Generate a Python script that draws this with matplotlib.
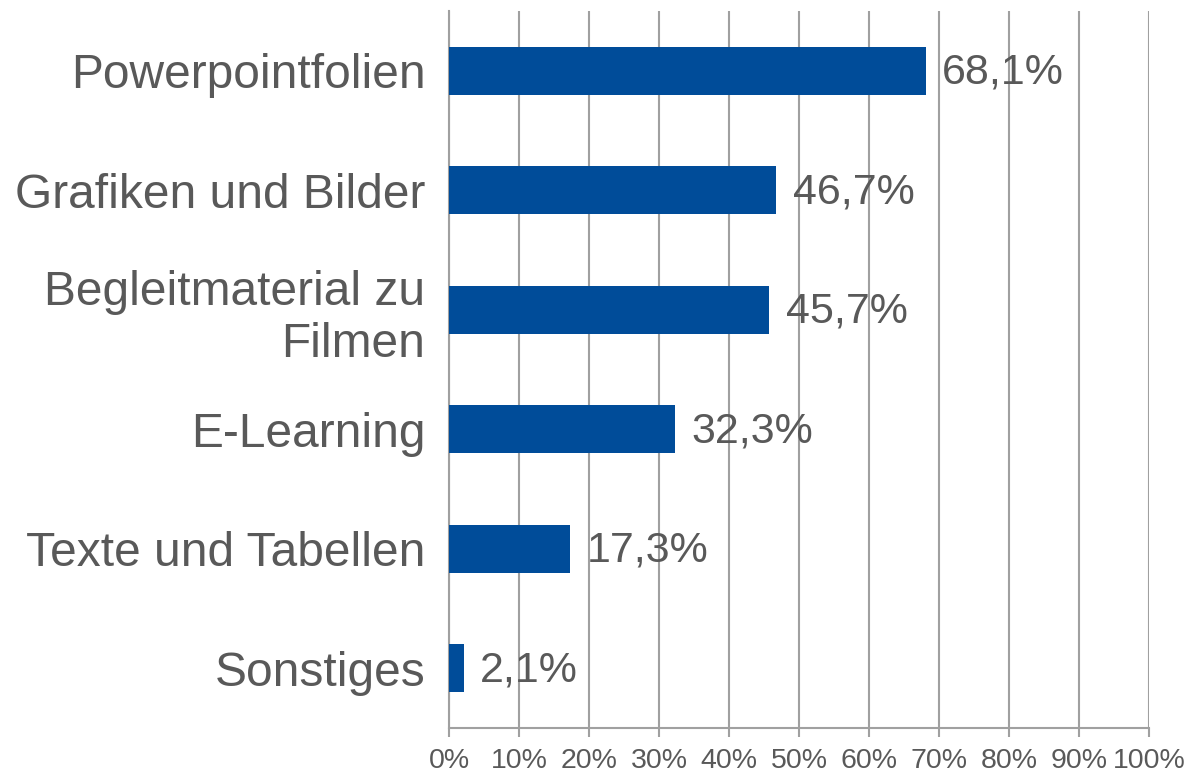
import matplotlib
matplotlib.use("Agg")
import matplotlib.pyplot as plt
import numpy as np

categories = ["Powerpointfolien", "Grafiken und Bilder", "Begleitmaterial zu\nFilmen",
              "E-Learning", "Texte und Tabellen", "Sonstiges"]
values = [68.1, 46.7, 45.7, 32.3, 17.3, 2.1]
value_labels = ["68,1%", "46,7%", "45,7%", "32,3%", "17,3%", "2,1%"]
xticks = [0, 10, 20, 30, 40, 50, 60, 70, 80, 90, 100]
xtick_labels = [f"{t}%" for t in xticks]

plt.rcParams['font.family'] = ['Liberation Sans', 'DejaVu Sans']

W, H = 1204, 775
fig = plt.figure(figsize=(W / 100, H / 100), dpi=100)
ax = fig.add_axes([449 / W, (H - 728) / H, 700 / W, 717 / H])

text_color = "#595959"
grid_color = "#A0A0A0"
bar_color = "#004C99"

y = np.arange(len(categories))
ax.barh(y, values, height=0.4, color=bar_color, zorder=3)
ax.set_ylim(len(categories) - 0.5, -0.5)
ax.set_xlim(0, 100)

for yi, v, lab in zip(y, values, value_labels):
    ax.annotate(lab, (v, yi), xytext=(12, -1.5), textcoords="offset points",
                ha="left", va="center", fontsize=31, color=text_color, zorder=4)

ax.set_yticks(y)
ax.set_yticklabels(categories, fontsize=34.5, color=text_color, ha="right")
ax.tick_params(axis="y", length=0, pad=17)
ax.set_xticks(xticks)
ax.set_xticklabels(xtick_labels, fontsize=20.5, color=text_color)
ax.tick_params(axis="x", length=6.5, width=1.5, color=grid_color, pad=8, direction="out")

ax.xaxis.grid(True, color=grid_color, linewidth=1.5, zorder=0)
ax.set_axisbelow(True)
for s in ["top", "right"]:
    ax.spines[s].set_visible(False)
for s in ["left", "bottom"]:
    ax.spines[s].set_color(grid_color)
    ax.spines[s].set_linewidth(1.5)

fig.savefig("out.png", dpi=100)
